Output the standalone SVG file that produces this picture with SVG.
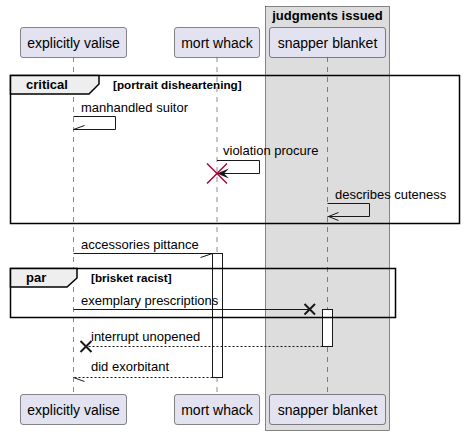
<svg xmlns="http://www.w3.org/2000/svg" width="464" height="435" viewBox="0 0 464 435">
<style>
text{font-family:"Liberation Sans",Arial,sans-serif;fill:#000}
.p{fill:#E2E2F0;stroke:#181818;stroke-width:0.5}
.pt{font-size:14px;text-anchor:middle}
.life{stroke:#181818;stroke-width:0.5;stroke-dasharray:5,5;fill:none}
.msg{font-size:13px}
.ln{stroke:#181818;stroke-width:1;fill:none}
.dl{stroke:#181818;stroke-width:1;fill:none;stroke-dasharray:2,2}
.frame{fill:none;stroke:#000;stroke-width:1.5}
.tab{fill:#EEEEEE;stroke:#000;stroke-width:1.5}
.ft{font-size:13px;font-weight:bold}
.fc{font-size:11.7px;font-weight:bold}
.act{fill:#fff;stroke:#181818;stroke-width:1}
</style>
<g id="box-judgments">
<rect x="265.5" y="6.5" width="124" height="424" fill="#DDDDDD" stroke="#181818" stroke-width="0.5"/>
<text x="327.5" y="20" class="ft" text-anchor="middle">judgments issued</text>
</g>
<g id="lifelines">
<line class="life" x1="73.5" y1="57" x2="73.5" y2="394"/>
<line class="life" x1="217" y1="57" x2="217" y2="394"/>
<line class="life" x1="327.5" y1="57" x2="327.5" y2="394"/>
</g>
<g id="p-explicitly-valise">
<rect class="p" x="20.5" y="27.5" width="106" height="30" rx="2.5"/>
<text class="pt" x="73.5" y="47.5">explicitly valise</text>
<rect class="p" x="20.5" y="394.5" width="106" height="30" rx="2.5"/>
<text class="pt" x="73.5" y="414.5">explicitly valise</text>
</g>
<g id="p-mort-whack">
<rect class="p" x="174.5" y="27.5" width="85" height="30" rx="2.5"/>
<text class="pt" x="217" y="47.5">mort whack</text>
<rect class="p" x="174.5" y="394.5" width="85" height="30" rx="2.5"/>
<text class="pt" x="217" y="414.5">mort whack</text>
</g>
<g id="p-snapper-blanket">
<rect class="p" x="269.5" y="27.5" width="116" height="30" rx="2.5"/>
<text class="pt" x="327.5" y="47.5">snapper blanket</text>
<rect class="p" x="269.5" y="394.5" width="116" height="30" rx="2.5"/>
<text class="pt" x="327.5" y="414.5">snapper blanket</text>
</g>
<g id="activations">
<rect class="act" x="212.5" y="253.5" width="10" height="124"/>
<rect class="act" x="322.5" y="309.5" width="10" height="37"/>
</g>
<g id="frame-critical">
<rect class="frame" x="10.5" y="75.5" width="449" height="148"/>
<path class="tab" d="M10.5,75.5 H99 V84 L89,94 H10.5 Z"/>
<text class="ft" x="26" y="89">critical</text>
<text class="fc" x="113" y="89">[portrait disheartening]</text>
</g>
<g id="frame-par">
<rect class="frame" x="10.5" y="268.5" width="385" height="49"/>
<path class="tab" d="M10.5,268.5 H77 V278 L67,287 H10.5 Z"/>
<text class="ft" x="26" y="282">par</text>
<text class="fc" x="91" y="282">[brisket racist]</text>
</g>
<g id="connectors">
<text class="msg" x="81" y="112">manhandled suitor</text>
<polyline class="ln" points="73.5,116.5 115.5,116.5 115.5,129.5 73.5,129.5"/>
<line class="ln" x1="73.5" y1="129.5" x2="84.5" y2="125.5"/>

<text class="msg" x="223" y="155">violation procure</text>
<polyline class="ln" points="217,160.5 259.5,160.5 259.5,173.5 219,173.5"/>
<polygon points="217,173.5 229,168.5 224,173.5 229,178.5" fill="#181818"/>
<g stroke="#A80036" stroke-width="1.5">
<line x1="207" y1="163.5" x2="227" y2="183.5"/>
<line x1="227" y1="163.5" x2="207" y2="183.5"/>
</g>

<text class="msg" x="335" y="199">describes cuteness</text>
<polyline class="ln" points="327.5,203.5 369.5,203.5 369.5,216.5 327.5,216.5"/>
<polyline class="ln" points="338.5,212.5 328.5,216.5 338.5,220.5"/>

<text class="msg" x="81" y="249">accessories pittance</text>
<line class="ln" x1="73.5" y1="253.5" x2="212.5" y2="253.5"/>
<line class="ln" x1="212.5" y1="253.5" x2="200.5" y2="257.5"/>

<text class="msg" x="81" y="305">exemplary prescriptions</text>
<line class="ln" x1="73.5" y1="309.5" x2="309.5" y2="309.5"/>
<g stroke="#181818" stroke-width="2">
<line x1="304.5" y1="304" x2="315" y2="314.5"/>
<line x1="315" y1="304" x2="304.5" y2="314.5"/>
</g>

<text class="msg" x="91" y="341">interrupt unopened</text>
<line class="dl" x1="322.5" y1="346.5" x2="86" y2="346.5"/>
<g stroke="#181818" stroke-width="2">
<line x1="80.5" y1="341" x2="91.5" y2="352"/>
<line x1="91.5" y1="341" x2="80.5" y2="352"/>
</g>

<text class="msg" x="91" y="371">did exorbitant</text>
<line class="dl" x1="212.5" y1="377.5" x2="73.5" y2="377.5"/>
<line class="ln" x1="73.5" y1="377.5" x2="84.5" y2="381.5"/>
</g>
</svg>
